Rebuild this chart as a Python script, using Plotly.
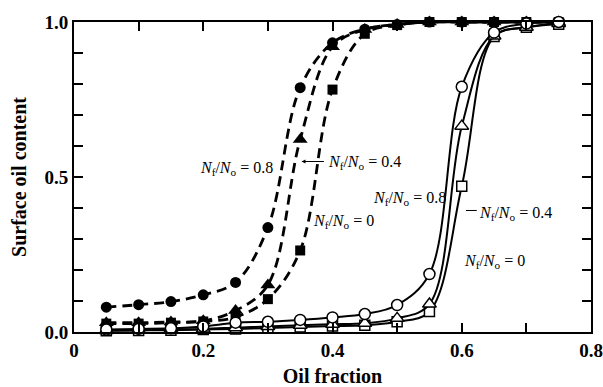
import plotly.graph_objects as go

# ---------------- data ----------------
oil_fraction = [0.05, 0.10, 0.15, 0.20, 0.25, 0.30, 0.35, 0.40, 0.45, 0.50, 0.55, 0.60, 0.65, 0.70, 0.75]

# dashed curves (filled markers)
dashed_08 = [0.080, 0.088, 0.098, 0.120, 0.160, 0.337, 0.788, 0.933, 0.977, 0.992, 1.0, 1.0, 1.0, 1.0, 1.0]
dashed_04 = [0.030, 0.030, 0.032, 0.036, 0.069, 0.152, 0.621, 0.920, 0.976, 0.992, 1.0, 1.0, 1.0, 1.0, 1.0]
dashed_00 = [0.027, 0.027, 0.030, 0.034, 0.048, 0.106, 0.263, 0.782, 0.962, 0.990, 1.0, 1.0, 1.0, 1.0, 1.0]

# solid curves (open markers)
solid_08 = [0.008, 0.010, 0.012, 0.018, 0.030, 0.033, 0.039, 0.047, 0.058, 0.087, 0.187, 0.791, 0.966, 0.995, 1.0]
solid_04 = [0.005, 0.006, 0.008, 0.010, 0.014, 0.018, 0.022, 0.025, 0.028, 0.044, 0.090, 0.664, 0.955, 0.983, 0.995]
solid_00 = [0.004, 0.005, 0.006, 0.008, 0.010, 0.013, 0.016, 0.019, 0.022, 0.033, 0.066, 0.470, 0.953, 0.983, 0.993]

x_tickvals = [0, 0.2, 0.4, 0.6, 0.8]
x_ticktext = ["0", "0.2", "0.4", "0.6", "0.8"]
y_tickvals = [0, 0.5, 1.0]
y_ticktext = ["0.0", "0.5", "1.0"]

FONT = "Liberation Serif, Times New Roman, serif"

fig = go.Figure()

dash_style = dict(color="black", width=2.8, dash="10px,6px", shape="spline", smoothing=1.0)
solid_style = dict(color="black", width=2.0, shape="spline", smoothing=1.0)

fig.add_trace(go.Scatter(x=oil_fraction, y=dashed_00, mode="lines+markers", line=dash_style, cliponaxis=False,
                         marker=dict(symbol="square", size=10, color="black")))
fig.add_trace(go.Scatter(x=oil_fraction, y=dashed_04, mode="lines+markers", line=dash_style, cliponaxis=False,
                         marker=dict(symbol="triangle-up", size=13, color="black")))
fig.add_trace(go.Scatter(x=oil_fraction, y=dashed_08, mode="lines+markers", line=dash_style, cliponaxis=False,
                         marker=dict(symbol="circle", size=11, color="black")))

fig.add_trace(go.Scatter(x=oil_fraction, y=solid_00, mode="lines+markers", line=solid_style, cliponaxis=False,
                         marker=dict(symbol="square", size=10, color="white", line=dict(color="black", width=1.5))))
fig.add_trace(go.Scatter(x=oil_fraction, y=solid_04, mode="lines+markers", line=solid_style, cliponaxis=False,
                         marker=dict(symbol="triangle-up", size=12, color="white", line=dict(color="black", width=1.5))))
fig.add_trace(go.Scatter(x=oil_fraction, y=solid_08, mode="lines+markers", line=solid_style, cliponaxis=False,
                         marker=dict(symbol="circle", size=11, color="white", line=dict(color="black", width=1.5))))

def lab(v):
    return "<i>N</i><sub>f</sub>/<i>N</i><sub>o</sub> = " + v

ann_font = dict(family=FONT, size=16, color="black")
annotations = [
    dict(x=0.192, y=0.529, text=lab("0.8"), showarrow=False, xanchor="left", yanchor="middle"),
    dict(x=0.390, y=0.546, text=lab("0.4"), showarrow=False, xanchor="left", yanchor="middle"),
    dict(x=0.367, y=0.356, text=lab("0"), showarrow=False, xanchor="left", yanchor="middle"),
    dict(x=0.459, y=0.432, text=lab("0.8"), showarrow=False, xanchor="left", yanchor="middle"),
    dict(x=0.624, y=0.3835, text=lab("0.4"), showarrow=False, xanchor="left", yanchor="middle"),
    dict(x=0.601, y=0.227, text=lab("0"), showarrow=False, xanchor="left", yanchor="middle"),
    # leader lines
    dict(x=0.352, y=0.550, ax=0.389, ay=0.550, xref="x", yref="y", axref="x", ayref="y",
         text="", showarrow=True, arrowhead=2, arrowsize=0.8, arrowwidth=1, arrowcolor="black"),
    dict(x=0.6066, y=0.392, ax=0.6256, ay=0.392, xref="x", yref="y", axref="x", ayref="y",
         text="", showarrow=True, arrowhead=0, arrowwidth=1, arrowcolor="black"),
]
for a in annotations:
    a.setdefault("font", ann_font)
    a.setdefault("xref", "x")
    a.setdefault("yref", "y")

fig.update_layout(
    width=603, height=387,
    margin=dict(l=74, r=12, t=22, b=55, autoexpand=False),
    paper_bgcolor="white", plot_bgcolor="white",
    showlegend=False,
    font=dict(family=FONT, color="black"),
    annotations=annotations,
)

fig.update_xaxes(
    range=[0, 0.8], showgrid=False, zeroline=False, automargin=False,
    showline=True, linecolor="black", linewidth=2, mirror="allticks",
    ticks="inside", ticklen=9, tickwidth=1.5, tickcolor="black",
    tickvals=x_tickvals, ticktext=["<b>" + t + "</b>" for t in x_ticktext],
    tickfont=dict(family=FONT, size=19, color="black"),
    minor=dict(dtick=0.1, tick0=0, ticks="inside", ticklen=9, tickwidth=1.5, tickcolor="black", showgrid=False),
    title=dict(text="<b>Oil fraction</b>", font=dict(family=FONT, size=20, color="black"), standoff=14),
)
fig.update_yaxes(
    range=[0, 1.0], showgrid=False, zeroline=False, automargin=False,
    showline=True, linecolor="black", linewidth=2, mirror="allticks",
    ticks="inside", ticklen=9, tickwidth=1.5, tickcolor="black",
    tickvals=y_tickvals, ticktext=["<b>" + t + "</b>" for t in y_ticktext],
    tickfont=dict(family=FONT, size=19, color="black"),
    minor=dict(dtick=0.1, tick0=0, ticks="inside", ticklen=9, tickwidth=1.5, tickcolor="black", showgrid=False),
    title=dict(text="<b>Surface oil content</b>", font=dict(family=FONT, size=20, color="black"), standoff=12),
)

fig.write_html("out.html")
